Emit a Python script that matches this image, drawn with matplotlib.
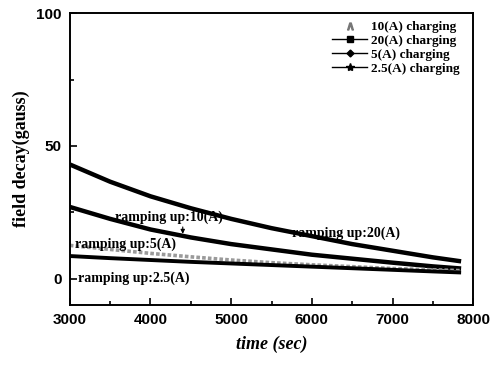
import matplotlib
matplotlib.use("Agg")
import matplotlib.pyplot as plt
from matplotlib.ticker import MultipleLocator

# values (time in sec, field decay in gauss)
t = [3000, 3500, 4000, 4500, 5000, 5500, 6000, 6500, 7000, 7500, 7850]
decay_20A = [43, 36.5, 31, 26.5, 22.5, 19, 16, 13, 10.5, 8, 6.5]
decay_10A = [27, 22.5, 18.5, 15.5, 13, 11, 9, 7.5, 6, 4.6, 3.8]
decay_5A = [12.5, 11, 9.5, 8.2, 7, 6, 5.2, 4.5, 3.8, 3.3, 3.0]
decay_2p5A = [8.5, 7.7, 7, 6.3, 5.7, 5.1, 4.5, 3.9, 3.3, 2.7, 2.3]

serif = ["Liberation Serif", "DejaVu Serif"]
sans = ["Liberation Sans", "DejaVu Sans"]

fig = plt.figure(figsize=(4.95, 3.65), dpi=100)
ax = fig.add_axes([0.141, 0.164, 0.815, 0.800])

ax.plot(t, decay_20A, color="black", lw=3.2, solid_capstyle="butt")
ax.plot(t, decay_10A, color="black", lw=3.2, solid_capstyle="butt")
ax.plot(t, decay_5A, color="#9a9a9a", lw=2.6, ls=(0, (1, 0.6)))
ax.plot(t, decay_2p5A, color="black", lw=2.8, solid_capstyle="butt")

# legend handles (drawn off-plot)
ax.plot([], [], ls="none", marker=r"$\wedge$", color="#777777", ms=5, label="10(A) charging")
ax.plot([], [], color="black", lw=1, marker="s", ms=4, label="20(A) charging")
ax.plot([], [], color="black", lw=1, marker="D", ms=3.5, label="5(A) charging")
ax.plot([], [], color="black", lw=1, marker="*", ms=6, label="2.5(A) charging")
ax.legend(loc="upper right", frameon=False, prop={"family": serif, "weight": "bold", "size": 9.5},
          handlelength=2.6, handletextpad=0.3, labelspacing=0.12, borderaxespad=0.2,
          bbox_to_anchor=(0.985, 1.0))

tk = dict(fontsize=10, fontweight="bold", family=serif)
ax.text(3560, 23, "ramping up:10(A)", va="center", **tk)
ax.annotate("", xy=(4400, 15.8), xytext=(4400, 20.5),
            arrowprops=dict(arrowstyle="-|>", color="black", lw=0.8, mutation_scale=6))
ax.text(5754, 17, "ramping up:20(A)", va="center", **tk)
ax.text(3060, 12.8, "ramping up:5(A)", va="center", **tk)
ax.text(3100, 0, "ramping up:2.5(A)", va="center", **tk)

ax.set_xlim(3000, 8000)
ax.set_ylim(-10, 100)
ax.set_xticks([3000, 4000, 5000, 6000, 7000, 8000])
ax.set_yticks([0, 50, 100])
ax.xaxis.set_minor_locator(MultipleLocator(500))
ax.yaxis.set_minor_locator(MultipleLocator(25))
ax.tick_params(which="both", direction="in", width=1.2)
ax.tick_params(which="major", length=5, pad=6)
ax.tick_params(which="minor", length=3)
for lab in ax.get_xticklabels() + ax.get_yticklabels():
    lab.set_family(sans)
    lab.set_fontweight("bold")
    lab.set_fontsize(11)
for s in ax.spines.values():
    s.set_linewidth(1.4)

ax.set_xlabel("time (sec)", family=serif, fontweight="bold", style="italic", fontsize=13, labelpad=6)
ax.set_ylabel("field decay(gauss)", family=serif, fontweight="bold", fontsize=13, labelpad=4)

fig.savefig("out.png", dpi=100)
